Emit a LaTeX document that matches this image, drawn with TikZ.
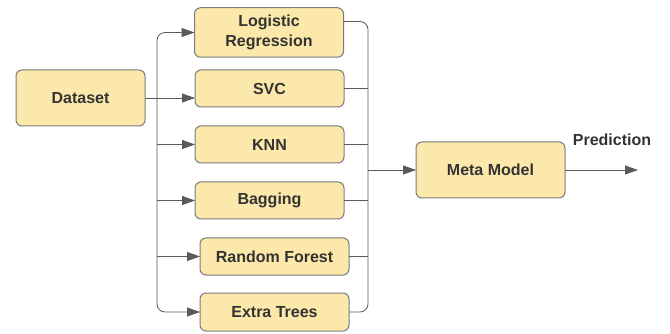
\documentclass[tikz,border=0pt]{standalone}
\usepackage{fontspec}
\setmainfont{Liberation Sans}
\usetikzlibrary{arrows.meta}
\definecolor{boxfill}{HTML}{FBE8AA}
\definecolor{boxline}{HTML}{7B7B7B}
\definecolor{wirecol}{HTML}{5A5A5A}
\definecolor{txtcol}{HTML}{333333}
\begin{document}
\begin{tikzpicture}[x=1pt,y=-1pt,inner sep=0pt,outer sep=0pt,
modelblock/.style={draw=boxline,fill=boxfill,rounded corners=6pt,line width=1pt,minimum width=149pt,minimum height=37pt,text=txtcol,font=\fontsize{16}{20}\selectfont\bfseries,align=center},
wire/.style={draw=wirecol,line width=0.8pt},
arr/.style={wire,-{Triangle[length=13pt,width=9pt]}}]
\useasboundingbox (0,0) rectangle (670,334);
\draw (80.5,98) node[modelblock,minimum width=129pt,minimum height=56pt] (data) {Dataset};
\draw (269,32.5) node[modelblock,minimum height=49.5pt] (lr) {Logistic\\Regression};
\draw (269.5,88.5) node[modelblock] (svc) {SVC};
\draw (269.5,144.5) node[modelblock] (knn) {KNN};
\draw (269.5,200.5) node[modelblock] (bag) {Bagging};
\draw (274.5,256.5) node[modelblock] (rf) {Random Forest};
\draw (274.5,312) node[modelblock,minimum height=38pt] (et) {Extra Trees};
\draw (490.5,170) node[modelblock,minimum height=56pt] (meta) {Meta Model};
\draw (612,140) node[text=txtcol,font=\fontsize{16}{20}\selectfont\bfseries] (pred) {Prediction};
\coordinate (busL) at (157,0);
\coordinate (busR) at (368,0);
\coordinate (out) at (638,170);
\draw[arr] (data.east) -- (data.east -| svc.west);
\draw[arr,rounded corners=8pt] (data.east -| busL) |- (lr.west);
\draw[arr,rounded corners=8pt] (data.east -| busL) |- (et.west);
\foreach \m in {knn,bag,rf} \draw[arr] (busL |- \m.west) -- (\m.west);
\draw[wire,rounded corners=8pt] ([yshift=11pt]lr.east) -| (busR |- et.east) -- (et.east);
\foreach \m in {svc,knn,bag,rf} \draw[wire] (\m.east) -- (busR |- \m.east);
\draw[arr] (busR |- meta.west) -- (meta.west);
\draw[arr] (meta.east) -- (out);
\end{tikzpicture}
\end{document}
